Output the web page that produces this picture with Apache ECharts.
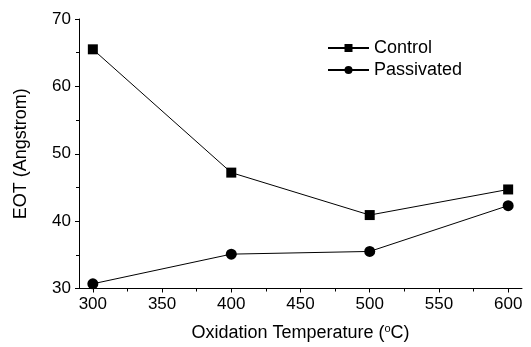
<!DOCTYPE html>
<html><head><meta charset="utf-8">
<script src="https://cdn.jsdelivr.net/npm/echarts@6/dist/echarts.min.js"></script>
<style>html,body{margin:0;padding:0;background:#fff}#c{width:531px;height:347px}</style>
</head><body><div id="c"></div>
<script>
const temperatures = [300, 400, 500, 600];
const controlEOT = [65.5, 47.2, 40.9, 44.7];
const passivatedEOT = [30.7, 35.1, 35.5, 42.3];
const xMajorTicks = [300, 350, 400, 450, 500, 550, 600];
const xMinorTicks = [325, 375, 425, 475, 525, 575];
const seriesNames = ['Control', 'Passivated'];

const FONT = '"Liberation Sans", Arial, sans-serif';
const chart = echarts.init(document.getElementById('c'));
const pairs = vals => temperatures.map((t, i) => [t, vals[i]]);
chart.setOption({
  animation: false,
  backgroundColor: '#fff',
  grid: { left: 79, right: 9, top: 19, bottom: 56, containLabel: false },
  legend: {
    left: 327, top: 39, padding: 0, orient: 'vertical', itemGap: 4, itemWidth: 41, itemHeight: 10,
    textStyle: { fontFamily: FONT, fontSize: 18, color: '#000' },
    data: seriesNames
  },
  xAxis: [{
    type: 'value', min: 290, max: 610, position: 'bottom',
    name: 'Oxidation Temperature ({s|o}C)', nameLocation: 'middle', nameGap: 35,
    nameTextStyle: { fontFamily: FONT, fontSize: 18, color: '#000',
      rich: { s: { fontFamily: FONT, fontSize: 11, color: '#000', verticalAlign: 'top', padding: [0, 0, 8, 0] } } },
    axisLine: { show: true, onZero: false, lineStyle: { color: '#000', width: 1 } },
    axisTick: { show: true, length: 4, customValues: xMajorTicks, lineStyle: { color: '#000' } },
    axisLabel: { customValues: xMajorTicks, fontFamily: FONT, fontSize: 17, color: '#000', margin: 7 },
    splitLine: { show: false }
  }, {
    type: 'value', min: 290, max: 610, position: 'bottom',
    axisLine: { show: false },
    axisTick: { show: true, length: 3, customValues: xMinorTicks, lineStyle: { color: '#000' } },
    axisLabel: { show: false },
    splitLine: { show: false }
  }],
  yAxis: {
    type: 'value', min: 30, max: 70, interval: 10,
    name: 'EOT (Angstrom)', nameLocation: 'middle', nameGap: 49,
    nameTextStyle: { fontFamily: FONT, fontSize: 18, color: '#000' },
    axisLine: { show: true, onZero: false, lineStyle: { color: '#000', width: 1 } },
    axisTick: { show: true, length: 4, lineStyle: { color: '#000' } },
    minorTick: { show: true, splitNumber: 2, length: 3, lineStyle: { color: '#000' } },
    axisLabel: { fontFamily: FONT, fontSize: 17, color: '#000', margin: 8 },
    splitLine: { show: false }
  },
  series: [{
    name: seriesNames[0], type: 'line', xAxisIndex: 0, data: pairs(controlEOT),
    symbol: 'rect', symbolSize: 10, color: '#000',
    lineStyle: { color: '#000', width: 1 }, itemStyle: { color: '#000' }
  }, {
    name: seriesNames[1], type: 'line', xAxisIndex: 0, data: pairs(passivatedEOT),
    symbol: 'circle', symbolSize: 11, color: '#000',
    lineStyle: { color: '#000', width: 1 }, itemStyle: { color: '#000' }
  }]
});
</script></body></html>
